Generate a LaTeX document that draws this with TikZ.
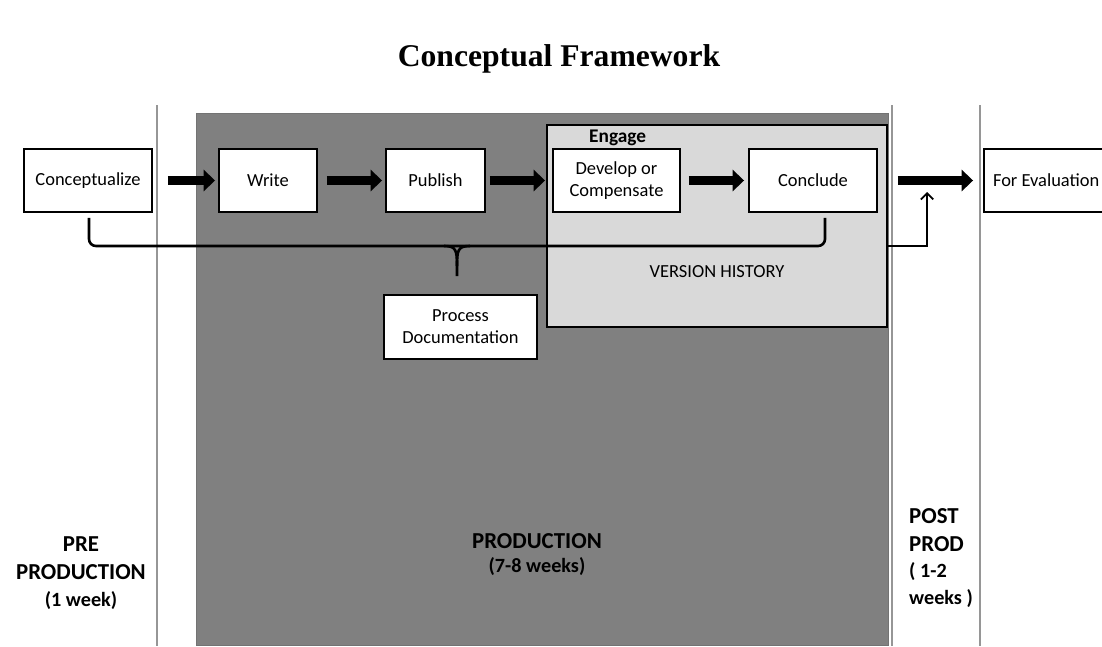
\documentclass[tikz,border=0pt]{standalone}
\usepackage{fontspec}
\setmainfont{Carlito}
\newfontfamily\titlefont{Liberation Serif}
\usetikzlibrary{arrows.meta}
\definecolor{prodgray}{RGB}{128,128,128}
\definecolor{engagegray}{RGB}{217,217,217}
\definecolor{rulegray}{RGB}{150,150,150}
\begin{document}
\begin{tikzpicture}[x=0.02cm,y=-0.02cm]
    \tikzstyle{stagebox}=[rectangle,draw,fill=white,line width=1.1pt,minimum height=1.26cm,align=center,inner sep=1pt,font=\fontsize{10.5}{12.5}\selectfont]
    \tikzstyle{blockarrow}=[line width=5.6pt,-{Triangle[length=6.5pt,width=12pt]}]
    \tikzstyle{phaselabel}=[align=center,font=\bfseries\fontsize{13}{16}\selectfont]
    \tikzstyle{weekslabel}=[font=\bfseries\fontsize{11.5}{15.5}\selectfont]
    \tikzstyle{bracepath}=[line width=1.5pt]
    \tikzstyle{phaserule}=[rulegray,line width=0.6pt]
    \useasboundingbox (0,0) rectangle (1102,646);
    \node[font=\titlefont\bfseries\fontsize{18}{22}\selectfont] (title) at (559,59) {Conceptual Framework};
    \node[rectangle,draw=prodgray!90!black,fill=prodgray,minimum width=13.84cm,minimum height=10.64cm] (prod) at (542,379) {};
    \draw[phaserule] (157,105) -- (157,646);
    \draw[phaserule] (892,105) -- (892,646);
    \draw[phaserule] (980,105) -- (980,646);
    \node[rectangle,draw,line width=1.1pt,fill=engagegray,minimum width=6.8cm,minimum height=4.04cm] (engage) at (717,226) {};
    \node[font=\bfseries\fontsize{11}{13}\selectfont,anchor=west] (engagelabel) at (583,138) {Engage};
    \node[font=\fontsize{10.5}{12.5}\selectfont] (vhlabel) at (717,272) {VERSION HISTORY};
    \begin{scope}
        \node[stagebox,minimum width=2.56cm] (concept) at (88,180.5) {Conceptualize};
        \node[stagebox,minimum width=1.96cm] (write) at (268,180.5) {Write};
        \node[stagebox,minimum width=1.98cm] (publish) at (435.5,180.5) {Publish};
        \node[stagebox,minimum width=2.54cm] (develop) at (616.5,180.5) {Develop or\\Compensate};
        \node[stagebox,minimum width=2.56cm] (conclude) at (813,180.5) {Conclude};
        \node[stagebox,text width=2.7cm,align=flush left,inner xsep=0.18cm] (evaluation) at (1060.5,180.5) {For Evaluation};
        \node[stagebox,minimum width=3.06cm,minimum height=1.28cm] (procdoc) at (460.5,327) {Process\\Documentation};
    \end{scope}
    \draw[blockarrow] ([xshift=0.3cm]concept.east) -- ([xshift=-0.06cm]write.west);
    \draw[blockarrow] ([xshift=0.18cm]write.east) -- ([xshift=-0.06cm]publish.west);
    \draw[blockarrow] ([xshift=0.08cm]publish.east) -- ([xshift=-0.14cm]develop.west);
    \draw[blockarrow] ([xshift=0.16cm]develop.east) -- ([xshift=-0.08cm]conclude.west);
    \draw[blockarrow] ([xshift=0.4cm]conclude.east) -- ([xshift=-0.2cm]evaluation.west);
    \coordinate (braceline) at (0,246);
    \coordinate (braceleft) at ([xshift=0.02cm,yshift=-0.1cm]concept.south);
    \coordinate (braceright) at ([xshift=0.24cm,yshift=-0.1cm]conclude.south);
    \coordinate (bracetip) at ([xshift=-0.07cm,yshift=0.36cm]procdoc.north);
    \coordinate (bracemid) at (bracetip |- braceline);
    \draw[bracepath,rounded corners=0.14cm] (braceleft) -- (braceleft |- braceline) -- (braceright |- braceline) -- (braceright);
    \draw[bracepath] ([xshift=-0.26cm]bracemid) .. controls ([xshift=-0.02cm]bracemid) and ([yshift=-0.08cm]bracemid) .. ([yshift=-0.4cm]bracemid) -- (bracetip);
    \draw[bracepath] ([xshift=0.26cm]bracemid) .. controls ([xshift=0.02cm]bracemid) and ([yshift=-0.08cm]bracemid) .. ([yshift=-0.4cm]bracemid);
    \coordinate (evalin) at (927,192);
    \draw[line width=1pt,-{Straight Barb[length=3.5pt,width=7pt]}] (engage.east |- braceline) -| (evalin);
    \begin{scope}
        \node[phaselabel] (prelabel) at (81,558) {PRE\\PRODUCTION};
        \node[weekslabel] (preweeks) at (81,601) {(1 week)};
        \node[phaselabel] (prodlabel) at (537,541) {PRODUCTION};
        \node[weekslabel] (prodweeks) at (537,567) {(7-8 weeks)};
        \node[phaselabel,align=left,anchor=west] (postlabel) at (903,530) {POST\\PROD};
        \node[weekslabel,align=left,anchor=west] (postweeks) at (903,585) {( 1-2\\weeks )};
    \end{scope}
\end{tikzpicture}
\end{document}
